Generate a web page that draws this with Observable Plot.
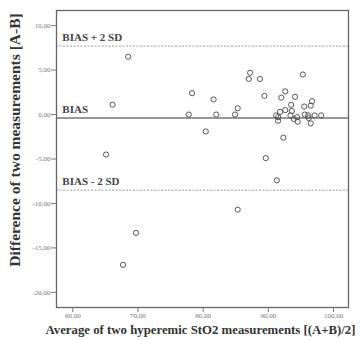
<!DOCTYPE html>
<html><head><meta charset="utf-8">
<script src="https://cdn.jsdelivr.net/npm/d3@7"></script>
<script src="https://cdn.jsdelivr.net/npm/@observablehq/plot@0.6"></script>
<style>body{margin:0;background:#fff} svg{display:block}</style>
</head><body><div id="chart"></div>
<script>
const avgValues = [68.5, 66.1, 65.1, 69.7, 67.7, 78.3, 77.8, 80.4, 81.6, 82.0, 84.9, 85.3, 85.3, 87.2, 87.0, 88.7, 89.4, 89.6, 91.3, 92.3, 95.3, 92.6, 92.0, 94.1, 96.7, 96.5, 93.5, 95.5, 92.6, 93.6, 91.8, 91.2, 91.5, 91.5, 93.4, 93.9, 94.5, 94.4, 95.6, 96.1, 96.2, 97.1, 98.1, 96.5];
const diffValues = [6.5, 1.1, -4.5, -13.3, -16.9, 2.4, 0.0, -1.9, 1.7, 0.0, 0.0, 0.7, -10.7, 4.7, 4.0, 4.0, 2.1, -4.9, -7.4, -2.6, 4.5, 2.6, 1.9, 2.0, 1.5, 1.0, 1.1, 0.9, 0.5, 0.4, 0.3, -0.1, -0.3, -0.7, -0.1, -0.5, -0.8, -0.3, 0.0, -0.1, -0.4, -0.1, -0.1, -1.0];
const limitValues = [7.7, -0.4, -8.5];
const limitLabels = ["BIAS + 2 SD", "BIAS", "BIAS - 2 SD"];
const xTicks = [60, 70, 80, 90, 100];
const yTicks = [10, 5, 0, -5, -10, -15, -20];
const xTitle = "Average of two hyperemic StO2 measurements [(A+B)/2]";
const yTitle = "Difference of two measurements [A-B]";

const points = avgValues.map((a, i) => ({avg: a, diff: diffValues[i]}));
const fmt = d => d.toFixed(2).replace(".", ",");

const chart = Plot.plot({
  width: 362, height: 340,
  marginLeft: 56, marginTop: 10, marginRight: 14, marginBottom: 33,
  style: {fontFamily: "Liberation Serif", background: "#fff"},
  x: {domain: [57.5, 102.3]},
  y: {domain: [-21.7, 11.7]},
  marks: [
    Plot.ruleY([limitValues[0], limitValues[2]], {stroke: "#9a9a9a", strokeWidth: 1, strokeDasharray: "2,1.5"}),
    Plot.ruleY([limitValues[1]], {stroke: "#777", strokeWidth: 1.5}),
    Plot.frame({stroke: "#666", strokeWidth: 1.3}),
    Plot.axisY({ticks: yTicks, tickFormat: fmt, tickSize: 5, tickPadding: 1, fontSize: 7, color: "#777", label: null}),
    Plot.axisX({ticks: xTicks, tickFormat: fmt, tickSize: 5, tickPadding: 1, fontSize: 7, color: "#777", label: null}),
    Plot.text(limitLabels, {x: () => 58.4, y: (d, i) => limitValues[i], text: d => d, dy: -5, textAnchor: "start", lineAnchor: "bottom", fontWeight: "bold", fontSize: 11, fill: "#444"}),
    Plot.dot(points, {x: "avg", y: "diff", r: 2.6, stroke: "#555", strokeWidth: 1, fill: "none"}),
    Plot.text([yTitle], {frameAnchor: "left", text: d => d, rotate: -90, dx: -41, dy: -19, textAnchor: "middle", lineAnchor: "middle", fontWeight: "bold", fontSize: 15.5, fill: "#333"}),
    Plot.text([xTitle], {frameAnchor: "bottom", text: d => d, dx: -2, dy: 22, textAnchor: "middle", lineAnchor: "middle", fontWeight: "bold", fontSize: 12.8, fill: "#333"})
  ]
});
document.getElementById("chart").appendChild(chart);
</script>
</body></html>
